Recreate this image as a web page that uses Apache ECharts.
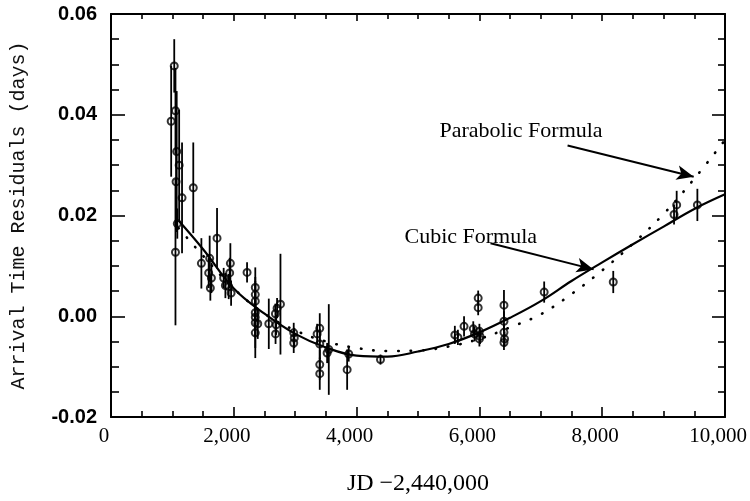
<!DOCTYPE html>
<html>
<head>
<meta charset="utf-8">
<script src="https://cdn.jsdelivr.net/npm/echarts@6/dist/echarts.min.js"></script>
<style>
  html, body { margin: 0; padding: 0; background: #fff; }
  #chart { width: 750px; height: 501px; }
</style>
</head>
<body>
<div id="chart"></div>
<script>
// Observed arrival-time residuals (JD - 2,440,000, days) with 1-sigma errors
const obsJD = [
  980, 1030, 1050, 1070, 1060, 1110, 1080, 1050, 1157, 1340,
  1472, 1607, 1591, 1635, 1618, 1727, 1835, 1863, 1944, 1933,
  1917, 1956, 2216, 2350, 2350, 2350, 2350, 2350, 2350, 2350,
  2390, 2570, 2678, 2705, 2760, 2690, 2680, 2976, 2985, 2976,
  3357, 3400, 3400, 3400, 3400, 3547, 3520, 3872, 3846, 4389,
  5600, 5650, 5750, 5900, 5920, 5980, 5980, 6000, 6000, 6010,
  6400, 6400, 6400, 6410, 6400, 7055, 8180, 9213, 9170, 9550
];
const obsResidual = [
  0.0387, 0.0497, 0.0408, 0.0327, 0.0267, 0.0300, 0.0184, 0.0127, 0.0235, 0.0255,
  0.0105, 0.0115, 0.0086, 0.0076, 0.0056, 0.0155, 0.0076, 0.0061, 0.0105, 0.0086,
  0.0059, 0.0046, 0.0087, 0.0057, 0.0043, 0.0030, 0.0007, -0.0002, -0.0013, -0.0033,
  -0.0015, -0.0015, 0.0005, 0.0016, 0.0024, -0.0017, -0.0035, -0.0033, -0.0043, -0.0053,
  -0.0035, -0.0024, -0.0055, -0.0096, -0.0114, -0.0066, -0.0073, -0.0075, -0.0106, -0.0086,
  -0.0037, -0.0042, -0.0020, -0.0025, -0.0035, 0.0036, 0.0017, -0.0030, -0.0045, -0.0040,
  0.0022, -0.0010, -0.0032, -0.0045, -0.0052, 0.0048, 0.0068, 0.0221, 0.0202, 0.0221
];
const obsError = [
  0.0110, 0.0053, 0.0085, 0.0120, 0.0100, 0.0110, 0.0030, 0.0145, 0.0110, 0.0090,
  0.0050, 0.0045, 0.0030, 0.0030, 0.0025, 0.0060, 0.0020, 0.0025, 0.0040, 0.0030,
  0.0025, 0.0025, 0.0020, 0.0040, 0.0035, 0.0040, 0.0045, 0.0040, 0.0050, 0.0050,
  0.0030, 0.0050, 0.0020, 0.0020, 0.0100, 0.0020, 0.0020, 0.0020, 0.0020, 0.0020,
  0.0020, 0.0030, 0.0030, 0.0030, 0.0032, 0.0090, 0.0020, 0.0015, 0.0040, 0.0010,
  0.0018, 0.0015, 0.0020, 0.0015, 0.0015, 0.0015, 0.0015, 0.0015, 0.0015, 0.0015,
  0.0030, 0.0020, 0.0015, 0.0015, 0.0015, 0.0021, 0.0022, 0.0028, 0.0020, 0.0032
];

// Cubic fit (solid curve)
const cubicJD = [1100, 1500, 2000, 2500, 3000, 3500, 4000, 4500, 5000, 5500,
                 6000, 6500, 7000, 7500, 8000, 8500, 9000, 9500, 10000];
const cubicResidual = [0.0190, 0.0133, 0.0055, 0.0005, -0.0035, -0.0062, -0.0078, -0.0080, -0.0070, -0.0055,
                       -0.0032, -0.0003, 0.0030, 0.0070, 0.0107, 0.0143, 0.0178, 0.0213, 0.0242];

// Parabolic fit (dotted curve)
const parabolicJD = [1100, 1500, 2000, 2500, 3000, 3500, 4000, 4500, 5000, 5500,
                     6000, 6500, 7000, 7500, 8000, 8500, 9000, 9500, 10000];
const parabolicResidual = [0.0175, 0.0120, 0.0055, 0.0005, -0.0028, -0.0050, -0.0063, -0.0069, -0.0068, -0.0060,
                           -0.0045, -0.0022, 0.0004, 0.0044, 0.0091, 0.0144, 0.0203, 0.0273, 0.0350];

// Tick label values
const xTicks = [0, 2000, 4000, 6000, 8000, 10000];
const yTicks = [-0.02, 0.00, 0.02, 0.04, 0.06];

// Annotation labels and their arrows (data coordinates)
const parabolicLabel = { text: 'Parabolic Formula', at: [5350, 0.0368] };
const parabolicArrow = [[7436, 0.0339], [9490, 0.0277]];
const cubicLabel = { text: 'Cubic Formula', at: [4780, 0.0157] };
const cubicArrow = [[6181, 0.0145], [7860, 0.0093]];

const withCommas = v => String(v).replace(/\B(?=(\d{3})+(?!\d))/g, ',');

const points = obsJD.map((x, i) => [x, obsResidual[i], obsError[i]]);
const zip = (xs, ys) => xs.map((x, i) => [x, ys[i]]);

const serif = 'Liberation Serif';
const sans = 'Liberation Sans';

const chart = echarts.init(document.getElementById('chart'), null, { renderer: 'canvas' });

const axisBase = {
  type: 'value',
  axisLine: { show: true, onZero: false, lineStyle: { color: '#000', width: 2 } },
  splitLine: { show: false },
  minorSplitLine: { show: false }
};

chart.setOption({
  animation: false,
  backgroundColor: '#fff',
  grid: { left: 111, right: 25, top: 14, bottom: 81 },
  xAxis: [
    Object.assign({}, axisBase, {
      position: 'bottom',
      min: xTicks[0], max: xTicks[xTicks.length - 1], interval: 2000,
      axisTick: { show: true, inside: true, length: 10, lineStyle: { color: '#000', width: 1.6 } },
      minorTick: { show: true, splitNumber: 4, length: 6, lineStyle: { color: '#000', width: 1.6 } },
      axisLabel: {
        show: true, margin: 9, color: '#000', fontFamily: serif, fontSize: 21,
        padding: [0, 14, 0, 0],
        formatter: v => withCommas(v)
      },
      name: 'JD \u22122,440,000',
      nameLocation: 'middle',
      nameGap: 55,
      nameTextStyle: { fontFamily: serif, fontSize: 24, color: '#000' }
    }),
    Object.assign({}, axisBase, {
      position: 'top',
      min: xTicks[0], max: xTicks[xTicks.length - 1], interval: 2000,
      axisTick: { show: true, inside: true, length: 7, lineStyle: { color: '#000', width: 1.6 } },
      minorTick: { show: true, splitNumber: 4, length: 5, lineStyle: { color: '#000', width: 1.6 } },
      axisLabel: { show: false }
    })
  ],
  yAxis: [
    Object.assign({}, axisBase, {
      position: 'left',
      min: yTicks[0], max: yTicks[yTicks.length - 1], interval: 0.02,
      axisTick: { show: true, inside: true, length: 14, lineStyle: { color: '#000', width: 1.6 } },
      minorTick: { show: true, splitNumber: 4, length: 8, lineStyle: { color: '#000', width: 1.6 } },
      axisLabel: {
        show: true, margin: 14, color: '#000', fontFamily: sans, fontSize: 20, fontWeight: 'bold',
        formatter: v => v.toFixed(2)
      },
      name: 'Arrival Time Residuals (days)',
      nameLocation: 'middle',
      nameGap: 82,
      nameRotate: 90,
      nameTextStyle: { fontFamily: 'Liberation Mono', fontSize: 20, color: '#111' }
    }),
    Object.assign({}, axisBase, {
      position: 'right',
      min: yTicks[0], max: yTicks[yTicks.length - 1], interval: 0.02,
      axisTick: { show: true, inside: true, length: 13, lineStyle: { color: '#000', width: 1.6 } },
      minorTick: { show: true, splitNumber: 4, length: 7, lineStyle: { color: '#000', width: 1.6 } },
      axisLabel: { show: false }
    })
  ],
  series: [
    {
      name: 'Parabolic Formula',
      type: 'line',
      data: zip(parabolicJD, parabolicResidual),
      smooth: 0.4,
      showSymbol: false,
      lineStyle: { color: '#000', width: 2.6, type: [0.5, 12], cap: 'round' },
      z: 3,
      markPoint: {
        symbol: 'circle', symbolSize: 0, silent: true,
        label: {
          show: true, position: 'right', distance: 0, color: '#000',
          fontFamily: serif, fontSize: 22, formatter: p => p.name
        },
        data: [{ name: parabolicLabel.text, coord: parabolicLabel.at }]
      },
      markLine: {
        silent: true,
        symbol: ['none', 'arrow'], symbolSize: [11, 17],
        label: { show: false },
        lineStyle: { color: '#000', width: 2, type: 'solid' },
        data: [[{ coord: parabolicArrow[0] }, { coord: parabolicArrow[1] }]]
      }
    },
    {
      name: 'Cubic Formula',
      type: 'line',
      data: zip(cubicJD, cubicResidual),
      smooth: 0.4,
      showSymbol: false,
      lineStyle: { color: '#000', width: 2.2 },
      z: 4,
      markPoint: {
        symbol: 'circle', symbolSize: 0, silent: true,
        label: {
          show: true, position: 'right', distance: 0, color: '#000',
          fontFamily: serif, fontSize: 22, formatter: p => p.name
        },
        data: [{ name: cubicLabel.text, coord: cubicLabel.at }]
      },
      markLine: {
        silent: true,
        symbol: ['none', 'arrow'], symbolSize: [11, 17],
        label: { show: false },
        lineStyle: { color: '#000', width: 2, type: 'solid' },
        data: [[{ coord: cubicArrow[0] }, { coord: cubicArrow[1] }]]
      }
    },
    {
      name: 'Error bars',
      type: 'custom',
      data: points,
      z: 5,
      renderItem: (params, api) => {
        const x = api.value(0), y = api.value(1), e = api.value(2);
        const top = api.coord([x, y + e]);
        const bottom = api.coord([x, y - e]);
        return {
          type: 'line',
          shape: { x1: top[0], y1: top[1], x2: bottom[0], y2: bottom[1] },
          style: { stroke: '#000', lineWidth: 1.8 }
        };
      }
    },
    {
      name: 'Residuals',
      type: 'scatter',
      data: points,
      symbol: 'circle',
      symbolSize: 7,
      itemStyle: { color: 'rgba(255,255,255,0)', borderColor: '#000', borderWidth: 2 },
      z: 6
    }
  ]
});
</script>
</body>
</html>
